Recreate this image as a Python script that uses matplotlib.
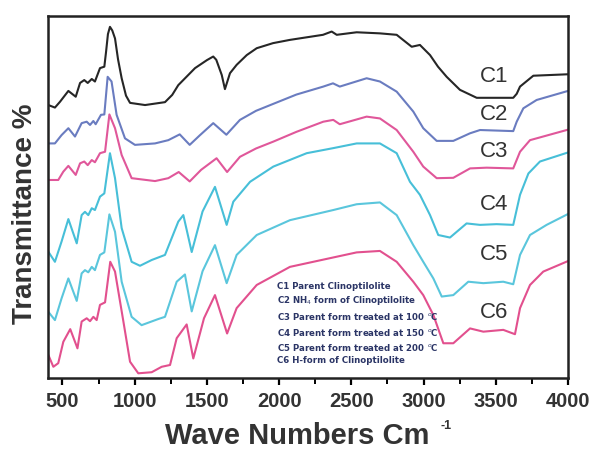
import numpy as np
import matplotlib
matplotlib.use("Agg")
import matplotlib.pyplot as plt
from matplotlib.ticker import MultipleLocator

# FTIR spectra of clinoptilolite samples
# wave number (cm-1) and transmittance (arbitrary %, stacked curves)
c1_wn = [402, 448, 483, 541, 592, 622, 651, 675, 703, 725, 760, 790, 802, 815, 829, 845, 864,
         885, 910, 940, 968, 1072, 1210, 1260, 1302, 1418, 1500, 1544, 1565, 1603, 1625, 1660,
         1706, 1776, 1845, 1958, 2075, 2304, 2364, 2399, 2537, 2698, 2814, 2858, 2918, 2975,
         3045, 3100, 3160, 3252, 3368, 3621, 3645, 3668, 3760, 4000]
c1_t = [75.4, 74.7, 76.3, 79.3, 77.7, 81.5, 82.3, 81.5, 82.6, 81.9, 85.6, 86.0, 90.1, 95.0,
        97.0, 96.0, 93.8, 88.0, 82.8, 78.0, 76.0, 75.4, 76.2, 78.2, 80.9, 85.6, 87.8, 88.8, 87.9,
        83.7, 79.8, 84.2, 86.5, 89.2, 91.1, 92.5, 93.4, 94.8, 95.7, 94.8, 95.5, 95.2, 94.8, 93.4,
        91.5, 92.0, 89.2, 86.0, 83.2, 79.6, 77.4, 77.4, 78.5, 80.5, 83.5, 83.9]

c2_wn = [402, 448, 494, 541, 587, 633, 668, 691, 714, 730, 767, 790, 813, 840, 875, 933, 1002,
         1141, 1233, 1312, 1381, 1450, 1544, 1635, 1729, 1840, 1958, 2120, 2306, 2373, 2420,
         2606, 2698, 2814, 2929, 2998, 3091, 3206, 3322, 3391, 3621, 3645, 3691, 3783, 4000]
c2_t = [64.8, 64.8, 67.1, 69.0, 66.7, 70.4, 70.8, 69.9, 71.0, 70.1, 72.7, 72.8, 83.2, 81.9, 72.7,
        66.2, 64.4, 64.8, 65.7, 67.3, 64.4, 67.0, 70.4, 67.2, 71.3, 73.8, 75.7, 78.3, 80.5, 81.4,
        80.5, 82.8, 81.9, 79.1, 73.6, 69.0, 65.5, 65.5, 67.6, 68.5, 68.2, 70.8, 74.5, 76.8, 79.3]

c3_wn = [402, 471, 506, 541, 592, 622, 651, 675, 703, 725, 760, 795, 825, 864, 910, 979, 1141,
         1233, 1305, 1381, 1460, 1567, 1640, 1729, 1840, 1960, 2120, 2306, 2375, 2420, 2606,
         2698, 2814, 2929, 2998, 3091, 3206, 3322, 3437, 3621, 3668, 3737, 4000]
c3_t = [54.7, 54.7, 57.0, 58.6, 56.1, 59.3, 59.8, 58.8, 60.2, 59.6, 62.1, 62.5, 72.8, 69.0, 61.6,
        55.2, 54.4, 55.2, 56.9, 54.3, 57.5, 60.7, 56.9, 61.1, 63.4, 65.3, 68.0, 70.8, 71.3, 70.1,
        72.2, 71.7, 68.5, 62.5, 58.4, 55.2, 55.3, 57.9, 58.1, 57.9, 62.5, 65.7, 68.6]

c4_wn = [402, 448, 494, 541, 599, 633, 656, 679, 703, 725, 760, 790, 829, 864, 910, 979, 1037,
         1118, 1210, 1302, 1337, 1395, 1470, 1556, 1637, 1683, 1799, 1960, 2191, 2375, 2537,
         2698, 2814, 2906, 2975, 3045, 3102, 3183, 3298, 3391, 3506, 3621, 3668, 3726, 3806,
         4000]
c4_t = [34.9, 32.1, 37.7, 43.9, 37.2, 45.0, 45.9, 45.0, 46.9, 46.4, 50.1, 51.0, 62.1, 55.2, 41.4,
        32.1, 31.0, 32.6, 34.0, 43.2, 45.0, 34.8, 46.0, 52.8, 42.3, 48.7, 54.2, 58.4, 62.1, 63.5,
        64.8, 64.8, 62.1, 54.2, 50.6, 45.0, 39.5, 38.8, 42.7, 42.3, 42.5, 42.3, 50.6, 56.5, 59.8,
        62.3]

c5_wn = [402, 448, 494, 541, 599, 633, 656, 679, 703, 725, 760, 790, 825, 864, 910, 979, 1048,
         1164, 1210, 1291, 1348, 1395, 1470, 1556, 1637, 1706, 1845, 2075, 2375, 2537, 2698,
         2814, 2929, 2998, 3068, 3126, 3206, 3310, 3414, 3552, 3621, 3668, 3737, 3852, 4000]
c5_t = [18.3, 16.0, 22.0, 27.5, 21.3, 28.9, 29.8, 29.2, 30.7, 29.8, 34.0, 34.7, 45.2, 40.4, 26.6,
        16.9, 14.6, 16.3, 16.9, 26.6, 28.6, 18.4, 29.5, 36.7, 26.2, 34.0, 39.5, 43.6, 46.4, 48.0,
        48.5, 45.0, 36.7, 32.1, 27.5, 22.5, 22.9, 26.6, 26.2, 26.6, 25.9, 34.0, 39.5, 42.3, 45.3]

c6_wn = [402, 437, 471, 506, 554, 604, 633, 668, 691, 714, 737, 760, 795, 831, 864, 922, 968,
         1025, 1118, 1187, 1245, 1291, 1360, 1406, 1480, 1556, 1640, 1706, 1845, 2075, 2352,
         2537, 2698, 2814, 2929, 2998, 3068, 3137, 3206, 3322, 3414, 3552, 3633, 3668, 3737,
         3829, 4000]
c6_t = [6.4, 3.1, 4.1, 10.0, 13.5, 8.2, 15.6, 16.5, 15.7, 16.9, 16.0, 20.2, 20.9, 32.1, 29.4,
        15.6, 4.5, 1.3, 1.6, 3.1, 3.6, 11.0, 14.8, 5.4, 16.5, 22.9, 12.3, 19.3, 25.7, 30.7, 33.1,
        34.7, 35.1, 32.1, 26.6, 22.9, 17.4, 9.6, 9.6, 13.7, 12.8, 13.3, 12.1, 19.3, 25.7, 29.4,
        32.3]

curve_names = ["C1", "C2", "C3", "C4", "C5", "C6"]
curve_colors = ["#262626", "#6a7cc0", "#e0579a", "#47bfd8", "#5ac6dc", "#e2508e"]
label_wn = 3488
label_t = [83.4, 72.7, 62.5, 47.8, 34.0, 18.0]

legend_lines = [
    "C1 Parent Clinoptilolite",
    "C2 NH$_4$ form of Clinoptilolite",
    "C3 Parent form treated at 100 $^{o}$C",
    "C4 Parent form treated at 150 $^{o}$C",
    "C5 Parent form treated at 200 $^{o}$C",
    "C6 H-form of Clinoptilolite",
]
legend_t = [25.4, 21.5, 17.1, 12.7, 8.3, 4.7]

plt.rcParams['font.family'] = ['Liberation Sans', 'DejaVu Sans']

fig = plt.figure(figsize=(5.94, 4.49), dpi=100)
ax = fig.add_axes([0.0808, 0.1581, 0.8754, 0.8063])

all_wn = [c1_wn, c2_wn, c3_wn, c4_wn, c5_wn, c6_wn]
all_t = [c1_t, c2_t, c3_t, c4_t, c5_t, c6_t]
for wn, t, col in zip(all_wn, all_t, curve_colors):
    ax.plot(wn, t, color=col, lw=1.5, solid_joinstyle="round")

for name, yy in zip(curve_names, label_t):
    ax.text(label_wn, yy, name, fontsize=16, color="#333333", ha="center", va="center")

# small legend block written inside the plot
for s, yy in zip(legend_lines, legend_t):
    ax.text(1985, yy, s, fontsize=6.2, fontweight="bold", family="DejaVu Sans",
            color="#2b3566", ha="left", va="center")

ax.set_xlim(400, 4000)
ax.set_ylim(0, 100)
ax.xaxis.set_major_locator(MultipleLocator(500))
ax.xaxis.set_minor_locator(MultipleLocator(250))
ax.set_yticks([])
ax.tick_params(axis="x", which="major", direction="out", length=5, width=1.6, pad=5,
               labelsize=14.5, top=False)
ax.tick_params(axis="x", which="minor", direction="out", length=4, width=1.4, top=False)
for lbl in ax.get_xticklabels():
    lbl.set_fontweight("bold")
    lbl.set_color("#333333")
for sp in ax.spines.values():
    sp.set_linewidth(1.8)
    sp.set_color("#222222")

fig.text(25 / 594, 1 - 214 / 449, "Transmittance %", rotation=90, fontsize=20,
         fontweight="bold", color="#333333", ha="center", va="center")
fig.text(297 / 594, 1 - 436 / 449, "Wave Numbers Cm", fontsize=21,
         fontweight="bold", color="#333333", ha="center", va="center")
fig.text(446 / 594, 1 - 426 / 449, "-1", fontsize=9, fontweight="bold",
         color="#333333", ha="center", va="center")

fig.savefig("out.png", dpi=100)
